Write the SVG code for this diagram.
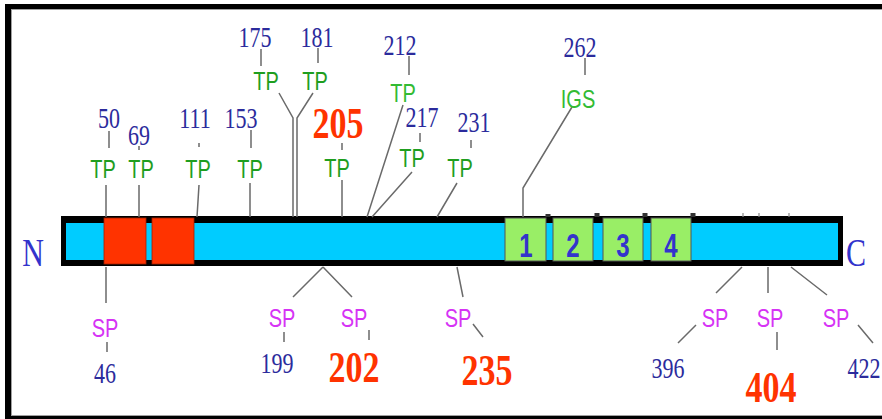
<svg xmlns="http://www.w3.org/2000/svg" width="882" height="419" viewBox="0 0 882 419">
  <style>
    .num { font-family: "Liberation Serif", "Times New Roman", serif; font-size: 22px; fill: #2b2b9c; text-anchor: middle; }
    .key { font-family: "Liberation Serif", "Times New Roman", serif; font-size: 34px; font-weight: bold; fill: #ff3300; text-anchor: middle; }
    .tp { font-family: "Liberation Sans", Arial, sans-serif; font-size: 20px; fill: #1f9e1f; text-anchor: middle; }
    .sp { font-family: "Liberation Sans", Arial, sans-serif; font-size: 20px; fill: #d633f5; text-anchor: middle; }
    .end { font-family: "Liberation Serif", "Times New Roman", serif; font-size: 30px; fill: #3333cc; text-anchor: middle; }
    .dom { font-family: "Liberation Sans", Arial, sans-serif; font-size: 24px; font-weight: bold; fill: #3333cc; text-anchor: middle; }
    .ln { fill: none; stroke: #6a6a6a; stroke-width: 1.5; }
    .tick { stroke: #8a8a8a; stroke-width: 1.2; }
  </style>

  <!-- page frame -->
  <rect x="0" y="0" width="882" height="419" fill="#ffffff"/>
  <g id="frame">
    <rect x="5" y="4" width="6" height="415" fill="#000"/>
    <rect x="5" y="4" width="877" height="5" fill="#000"/>
    <rect x="5" y="416" width="877" height="3" fill="#000"/>
    <path d="M11.5 9.5 V415.5 M11 9.5 H882 M11 415.5 H882" fill="none" stroke="#a0a0a0" stroke-width="1"/>
  </g>

  <!-- protein backbone -->
  <g id="backbone">
    <rect x="61" y="216" width="782" height="50" fill="#000"/>
    <rect x="66" y="223" width="772" height="37" fill="#00ccff"/>
    <!-- small marks on the top edge -->
    <path d="M548 214 V217 M597 213 V217 M645 213 V217 M693 213 V217" stroke="#333" stroke-width="5"/>
    <path d="M743 213 V217 M759 213 V217 M789 213 V217" class="tick"/>
  </g>

  <g id="repeat-a"><rect x="104" y="218" width="42" height="46" fill="#ff3300" stroke="#a02000" stroke-width="0.8"/></g>
  <g id="repeat-b"><rect x="152" y="218" width="42" height="46" fill="#ff3300" stroke="#a02000" stroke-width="0.8"/></g>

  <g id="domain-1"><rect x="505" y="218" width="41" height="43" fill="#99ee66" stroke="#555" stroke-width="1"/>
    <text class="dom" transform="translate(526,257) scale(1,1.4)">1</text></g>
  <g id="domain-2"><rect x="553" y="218" width="40" height="43" fill="#99ee66" stroke="#555" stroke-width="1"/>
    <text class="dom" transform="translate(573,257) scale(1,1.4)">2</text></g>
  <g id="domain-3"><rect x="603" y="218" width="40" height="43" fill="#99ee66" stroke="#555" stroke-width="1"/>
    <text class="dom" transform="translate(623,257) scale(1,1.4)">3</text></g>
  <g id="domain-4"><rect x="651" y="218" width="40" height="43" fill="#99ee66" stroke="#555" stroke-width="1"/>
    <text class="dom" transform="translate(671,257) scale(1,1.4)">4</text></g>

  <g id="n-term"><text class="end" transform="translate(33,266) scale(1,1.3)">N</text></g>
  <g id="c-term"><text class="end" transform="translate(856,266) scale(1,1.3)">C</text></g>

  <!-- connectors -->
  <g id="connectors">
    <!-- upper sites -->
    <path class="ln" d="M109 131 V148 M106 185 V217"/>
    <path class="ln" d="M139 146 V150 M139 185 V217"/>
    <path class="ln" d="M199 143 V147 M199 185 L197 217"/>
    <path class="ln" d="M251 130 V148 M250 183 V217"/>
    <path class="ln" d="M261 49 V66 M279 93 L293 118 V217"/>
    <path class="ln" d="M318 48 V63 M313 93 L297 118 V217"/>
    <path class="ln" d="M342 143 V150 M342 180 V217"/>
    <path class="ln" d="M409 56 V75 M403 105 L367 217"/>
    <path class="ln" d="M420 133 V142 M412 172 L372 217"/>
    <path class="ln" d="M471 140 V148 M457 183 L437 217"/>
    <path class="ln" d="M585 58 V75 M572 107 L523 188 V217"/>
    <!-- lower sites -->
    <path class="ln" d="M106 267 V303 M107 342 V352"/>
    <path class="ln" d="M323 267 L293 297 M284 332 V342"/>
    <path class="ln" d="M323 267 L352 297 M369 330 V340"/>
    <path class="ln" d="M457 267 L463 297 M473 324 L483 337"/>
    <path class="ln" d="M742 267 L716 293 M696 325 L678 343"/>
    <path class="ln" d="M768 267 V293 M777 332 V350"/>
    <path class="ln" d="M791 267 L827 295 M858 325 L873 343"/>
  </g>

  <!-- upper phosphorylation sites -->
  <g id="tp-50"><text class="num" transform="translate(109,128) scale(1,1.3)">50</text><text class="tp" transform="translate(103,178) scale(1,1.25)">TP</text></g>
  <g id="tp-69"><text class="num" transform="translate(139,145) scale(1,1.3)">69</text><text class="tp" transform="translate(141,178) scale(1,1.25)">TP</text></g>
  <g id="tp-111"><text class="num" transform="translate(195,128) scale(1,1.3)">111</text><text class="tp" transform="translate(198,178) scale(1,1.25)">TP</text></g>
  <g id="tp-153"><text class="num" transform="translate(241,128) scale(1,1.3)">153</text><text class="tp" transform="translate(250,178) scale(1,1.25)">TP</text></g>
  <g id="tp-175"><text class="num" transform="translate(255,47) scale(1,1.3)">175</text><text class="tp" transform="translate(266,90) scale(1,1.25)">TP</text></g>
  <g id="tp-181"><text class="num" transform="translate(317,47) scale(1,1.3)">181</text><text class="tp" transform="translate(315,90) scale(1,1.25)">TP</text></g>
  <g id="tp-205"><text class="key" transform="translate(338,138) scale(1,1.3)">205</text><text class="tp" transform="translate(337,177) scale(1,1.25)">TP</text></g>
  <g id="tp-212"><text class="num" transform="translate(400,55) scale(1,1.3)">212</text><text class="tp" transform="translate(403,102) scale(1,1.25)" style="fill:#33bb33">TP</text></g>
  <g id="tp-217"><text class="num" transform="translate(422,127) scale(1,1.3)">217</text><text class="tp" transform="translate(412,167) scale(1,1.25)">TP</text></g>
  <g id="tp-231"><text class="num" transform="translate(474,132) scale(1,1.3)">231</text><text class="tp" transform="translate(460,177) scale(1,1.25)">TP</text></g>
  <g id="igs-262"><text class="num" transform="translate(580,57) scale(1,1.3)">262</text><text class="tp" transform="translate(578,108) scale(1,1.25)" style="fill:#33bb33">IGS</text></g>

  <!-- lower phosphorylation sites -->
  <g id="sp-46"><text class="sp" transform="translate(105,337) scale(1,1.25)">SP</text><text class="num" transform="translate(105,383) scale(1,1.3)">46</text></g>
  <g id="sp-199"><text class="sp" transform="translate(282,327) scale(1,1.25)">SP</text><text class="num" transform="translate(277,373) scale(1,1.3)">199</text></g>
  <g id="sp-202"><text class="sp" transform="translate(354,327) scale(1,1.25)">SP</text><text class="key" transform="translate(354,382) scale(1,1.3)">202</text></g>
  <g id="sp-235"><text class="sp" transform="translate(458,327) scale(1,1.25)">SP</text><text class="key" transform="translate(487,385) scale(1,1.3)">235</text></g>
  <g id="sp-396"><text class="sp" transform="translate(715,327) scale(1,1.25)">SP</text><text class="num" transform="translate(668,378) scale(1,1.3)">396</text></g>
  <g id="sp-404"><text class="sp" transform="translate(770,327) scale(1,1.25)">SP</text><text class="key" transform="translate(771,402) scale(1,1.3)">404</text></g>
  <g id="sp-422"><text class="sp" transform="translate(836,327) scale(1,1.25)">SP</text><text class="num" transform="translate(864,378) scale(1,1.3)">422</text></g>
</svg>
